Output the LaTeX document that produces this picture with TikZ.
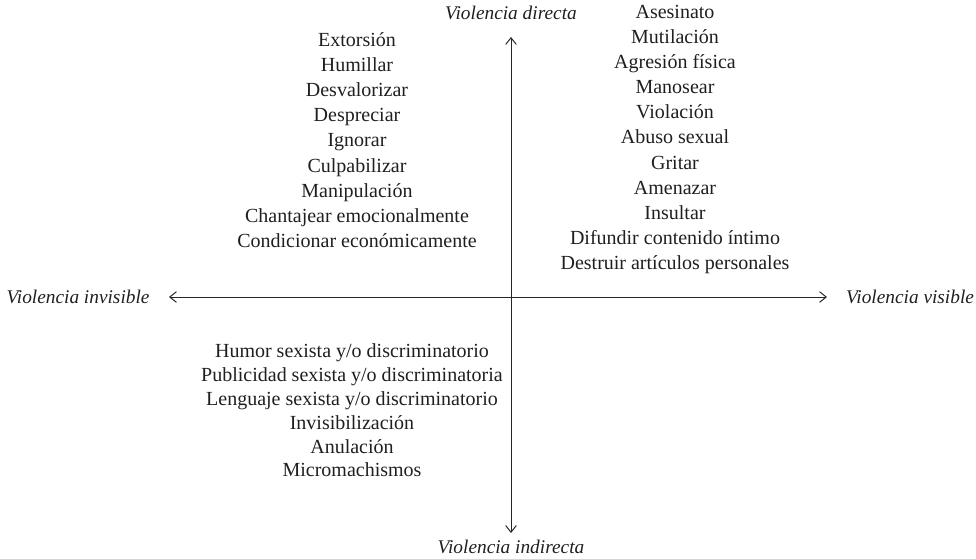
\documentclass[tikz,border=0pt]{standalone}
\usepackage{fontspec}
\setmainfont{Liberation Serif}
\usetikzlibrary{arrows.meta}
\begin{document}
\begin{tikzpicture}[x=0.75pt,y=-0.75pt,
  lst/.style={align=center,inner sep=0pt,font=\fontsize{15}{18.9}\selectfont,text=black!88},
  axlabel/.style={inner sep=0pt,font=\fontsize{14.5}{18}\selectfont\itshape,text=black!88},
  axis/.style={draw=black!85,line width=0.75pt,{Straight Barb[length=5pt,width=8pt]}-{Straight Barb[length=5pt,width=8pt]}}]
\useasboundingbox (0,0) rectangle (976,558);
\node[axlabel] (dir) at (511,13) {Violencia directa};
\node[axlabel] (ind) at (511,547) {Violencia indirecta};
\node[axlabel] (inv) at (78,297) {Violencia invisible};
\node[axlabel] (vis) at (910,297) {Violencia visible};
\coordinate (top) at (511,37);
\coordinate (bot) at (511,533);
\coordinate (lft) at (169,297);
\coordinate (rgt) at (827,297);
\draw[axis] (bot) -- (top);
\draw[axis] (lft) -- (rgt);
\node[lst] (tl) at (357,140) {Extorsión\\Humillar\\Desvalorizar\\Despreciar\\Ignorar\\Culpabilizar\\Manipulación\\Chantajear emocionalmente\\Condicionar económicamente};
\node[lst,font=\fontsize{15}{18.8}\selectfont] (tr) at (675,139.5) {Asesinato\\Mutilación\\Agresión física\\Manosear\\Violación\\Abuso sexual\\Gritar\\Amenazar\\Insultar\\Difundir contenido íntimo\\Destruir artículos personales};
\node[lst,font=\fontsize{15}{17.85}\selectfont] (bl) at (352,410.5) {Humor sexista y/o discriminatorio\\Publicidad sexista y/o discriminatoria\\Lenguaje sexista y/o discriminatorio\\Invisibilización\\Anulación\\Micromachismos};
\end{tikzpicture}
\end{document}
